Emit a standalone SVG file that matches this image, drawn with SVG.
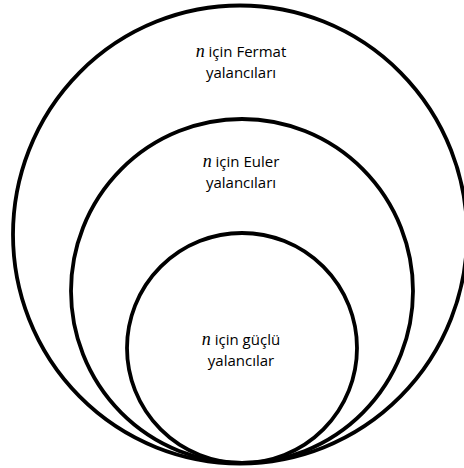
<svg xmlns="http://www.w3.org/2000/svg" width="464" height="468" viewBox="0 0 464 468">
<style>
.ring{fill:none;stroke:#000;stroke-width:3.8}
.lbl{font-family:"Open Sans","Noto Sans","Liberation Sans",sans-serif;font-size:15px;fill:#000;text-anchor:middle}
.var{font-family:"Liberation Serif","DejaVu Serif",serif;font-style:italic;font-size:18px}
</style>
<rect width="464" height="468" fill="#fff"/>
<g id="fermat">
<ellipse class="ring" cx="240" cy="234.5" rx="227" ry="229"/>
<text class="lbl" x="241" y="57"><tspan class="var">n</tspan> için Fermat</text>
<text class="lbl" x="241" y="78">yalancıları</text>
</g>
<g id="euler">
<ellipse class="ring" cx="242" cy="291" rx="171" ry="172"/>
<text class="lbl" x="241" y="167"><tspan class="var">n</tspan> için Euler</text>
<text class="lbl" x="241" y="188">yalancıları</text>
</g>
<g id="strong">
<ellipse class="ring" cx="242" cy="348" rx="115" ry="115"/>
<text class="lbl" x="241" y="345"><tspan class="var">n</tspan> için güçlü</text>
<text class="lbl" x="241" y="366">yalancılar</text>
</g>
</svg>
